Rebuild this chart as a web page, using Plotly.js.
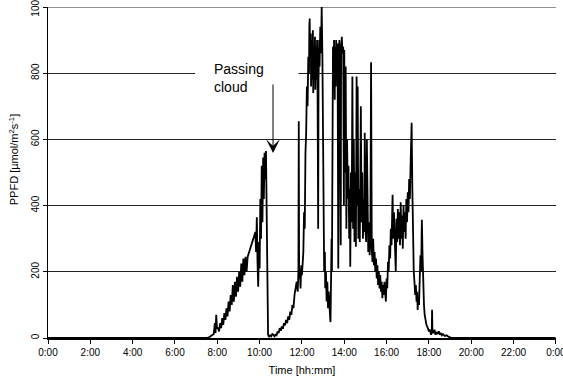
<!DOCTYPE html>
<html><head><meta charset="utf-8">
<script src="https://cdn.plot.ly/plotly-3.0.1.min.js"></script>
<style>html,body{margin:0;padding:0;background:#fff}#chart{width:563px;height:380px}</style>
</head><body><div id="chart"></div>
<script>
const day = "2000-01-01";
const nextDay = "2000-01-02";

const nightTimes = ["00:00","07:30"];
const nightPPFD  = [0, 0];

const morningTimes = ["07:38","07:45","07:50","07:53","07:55","07:57","07:59","08:02","08:05","08:08",
  "08:11","08:14","08:17","08:20","08:23","08:26","08:29","08:32","08:35","08:38",
  "08:41","08:44","08:47","08:50","08:53","08:56","08:59","09:02","09:05","09:08",
  "09:11","09:14","09:17","09:20","09:23","09:26",
  "09:48","09:50","09:52","09:54","09:56","09:58","10:00","10:02","10:04","10:06",
  "10:08","10:10","10:12","10:14","10:16","10:18","10:20","10:22","10:24","10:27",
  "10:30","10:33","10:36","10:39"];
const morningPPFD = [3,8,12,45,15,70,30,30,20,45,
  30,60,40,75,55,90,65,110,80,130,
  100,160,110,170,125,185,140,200,155,225,
  170,240,190,245,200,245,
  320,260,365,230,155,290,210,420,300,520,
  350,545,420,560,480,565,380,120,10,3,
  8,5,12,10];

const middayTimes = ["10:42","10:45","10:48","10:51","10:54","10:57","11:00","11:03","11:06","11:09",
  "11:12","11:15","11:18","11:21","11:24","11:27","11:30","11:33","11:36","11:39",
  "11:42","11:45","11:48","11:50","11:51","11:52","11:54","11:56","11:58","12:00",
  "12:02","12:04","12:06","12:08","12:10","12:12","12:14","12:16","12:18","12:20",
  "12:21","12:22","12:23","12:25","12:26","12:28","12:29","12:31","12:32","12:34",
  "12:35","12:37","12:38","12:40","12:41","12:43","12:44","12:46","12:47","12:49",
  "12:50","12:52","12:54","12:56","12:58","13:00","13:02","13:03","13:05","13:06",
  "13:08","13:10","13:12","13:14","13:16","13:18","13:20","13:21","13:22","13:24",
  "13:25","13:27","13:28","13:30","13:31","13:33","13:34","13:36","13:37","13:39",
  "13:41","13:43","13:44","13:46","13:48","13:50","13:51","13:53","13:55","13:57","13:59"];
const middayPPFD = [5,10,8,20,15,30,22,35,28,45,
  38,55,45,65,55,80,70,100,90,130,
  150,170,140,200,655,180,210,150,220,190,
  230,260,380,330,560,620,760,700,850,800,
  940,965,850,920,760,900,780,930,740,880,
  800,910,750,880,780,900,820,330,780,900,
  820,940,860,1000,850,600,400,200,260,150,
  200,110,170,90,140,70,60,48,120,300,
  200,600,880,800,900,720,880,760,900,780,
  890,210,860,900,820,280,870,910,860,880,400];

const afternoonTimes = ["14:00","14:02","14:04","14:06","14:08","14:10","14:12","14:14","14:16","14:17",
  "14:19","14:21","14:23","14:25","14:27","14:29","14:31","14:33","14:35","14:36",
  "14:38","14:40","14:42","14:44","14:47","14:49","14:51","14:53","14:55","14:57",
  "14:58","15:00","15:02","15:04","15:06","15:08","15:10","15:12","15:14","15:16",
  "15:18","15:20","15:22","15:24","15:26","15:28","15:30","15:32","15:34","15:36",
  "15:38","15:40","15:42","15:44","15:46","15:48","15:50","15:52","15:54","15:56",
  "15:58","16:00","16:02","16:04","16:06","16:08","16:10","16:12","16:14","16:17",
  "16:19","16:21","16:23","16:26","16:28","16:30","16:32","16:34","16:36","16:38",
  "16:40","16:42","16:44","16:46","16:48","16:50","16:52","16:54","16:56","16:58"];
const afternoonPPFD = [870,500,820,330,600,420,520,300,450,215,
  500,350,790,330,600,290,500,276,790,400,
  760,300,450,290,700,350,500,300,420,320,
  620,330,290,600,310,260,350,250,300,833,
  270,230,300,220,260,200,240,180,220,160,
  200,150,190,140,170,120,160,130,170,115,
  110,180,150,230,200,280,240,330,280,433,
  300,380,280,200,360,290,390,300,380,280,
  410,300,370,270,400,320,380,300,420,350];

const eveningTimes = ["17:00","17:02","17:04","17:06","17:08","17:10","17:11","17:13","17:15","17:17",
  "17:19","17:21","17:23","17:25","17:27","17:28","17:30","17:32","17:34","17:36",
  "17:38","17:40","17:42","17:44","17:46","17:48","17:50","17:53","17:57","18:00",
  "18:03","18:06","18:08","18:09","18:10","18:13","18:16","18:19","18:22","18:25",
  "18:28","18:31","18:34","18:37","18:40","18:45","18:50","18:55","19:00","19:05","23:59"];
const eveningPPFD = [440,380,480,420,520,600,650,450,300,200,
  170,130,160,110,140,85,120,100,180,250,
  200,357,250,150,100,70,50,40,30,20,
  25,10,15,85,20,15,25,10,18,12,
  20,10,15,8,12,6,8,4,2,0,0];

const yTicks = [0,200,400,600,800,1000];
const yMax = 1000;
const titleX = "Time [hh:mm]";
const titleY = "PPFD [µmol/m<sup>2</sup>s<sup>-1</sup>]";
const noteText = "Passing<br>cloud";

const allTimes = nightTimes.concat(morningTimes, middayTimes, afternoonTimes, eveningTimes);
const allPPFD = nightPPFD.concat(morningPPFD, middayPPFD, afternoonPPFD, eveningPPFD);
const xs = allTimes.map(t => day + " " + t);

const FONT = "Liberation Sans, Arial, sans-serif";

const trace = {
  x: xs, y: allPPFD, type: "scatter", mode: "lines",
  line: {color: "#000", width: 1.8}, hoverinfo: "skip", showlegend: false
};

const layout = {
  width: 563, height: 380,
  margin: {l: 48, r: 7, t: 7, b: 42, pad: 0},
  paper_bgcolor: "#fff", plot_bgcolor: "#fff",
  font: {family: FONT, color: "#000", size: 10},
  showlegend: false,
  xaxis: {
    type: "date",
    range: [day + " 00:00", nextDay + " 00:00:20"],
    tick0: day + " 00:00", dtick: 7200000,
    tickformat: "%-H:%M",
    ticks: "outside", ticklen: 4, tickcolor: "#000", tickwidth: 1,
    ticklabeloverflow: "allow",
    showline: true, linecolor: "#000", linewidth: 2,
    showgrid: false, zeroline: false,
    tickfont: {family: FONT, size: 10, color: "#000"},
    title: {text: titleX, font: {family: FONT, size: 11, color: "#000"}, standoff: 9},
    automargin: false, fixedrange: true
  },
  yaxis: {
    range: [0, yMax], tickvals: yTicks, ticktext: yTicks.map(String),
    tickangle: -90,
    ticks: "outside", ticklen: 4, tickcolor: "#000", tickwidth: 1,
    ticklabeloverflow: "allow",
    showline: true, linecolor: "#000", linewidth: 1,
    showgrid: true, gridcolor: "#222", gridwidth: 1,
    zeroline: false,
    tickfont: {family: FONT, size: 10, color: "#000"},
    automargin: false, fixedrange: true
  },
  shapes: [
    {
      type: "rect", xref: "x", yref: "y", layer: "between",
      x0: day + " 06:57", x1: day + " 11:50", y0: 785, y1: 815,
      fillcolor: "#fff", line: {width: 0}
    },
    {
      type: "line", xref: "paper", yref: "y", layer: "between",
      x0: 0, x1: 1, y0: yMax, y1: yMax,
      line: {color: "#222", width: 1}
    }
  ],
  annotations: [
    {
      xref: "paper", yref: "paper", x: -0.067, y: 0.54,
      text: titleY, textangle: -90, showarrow: false,
      font: {family: FONT, size: 11, color: "#000"},
      xanchor: "center", yanchor: "middle"
    },
    {
      xref: "x", yref: "y", x: day + " 07:44", y: 843,
      text: noteText, showarrow: false, align: "left",
      xanchor: "left", yanchor: "top",
      font: {family: FONT, size: 14, color: "#000"}
    },
    {
      xref: "x", yref: "y", x: day + " 10:38", y: 559,
      text: "", showarrow: true, ax: 0, ay: -70,
      arrowhead: 3, arrowsize: 2.3, arrowwidth: 1, arrowcolor: "#000", standoff: 0
    }
  ]
};

Plotly.newPlot("chart", [trace], layout, {staticPlot: true, displayModeBar: false});
</script>
</body></html>
